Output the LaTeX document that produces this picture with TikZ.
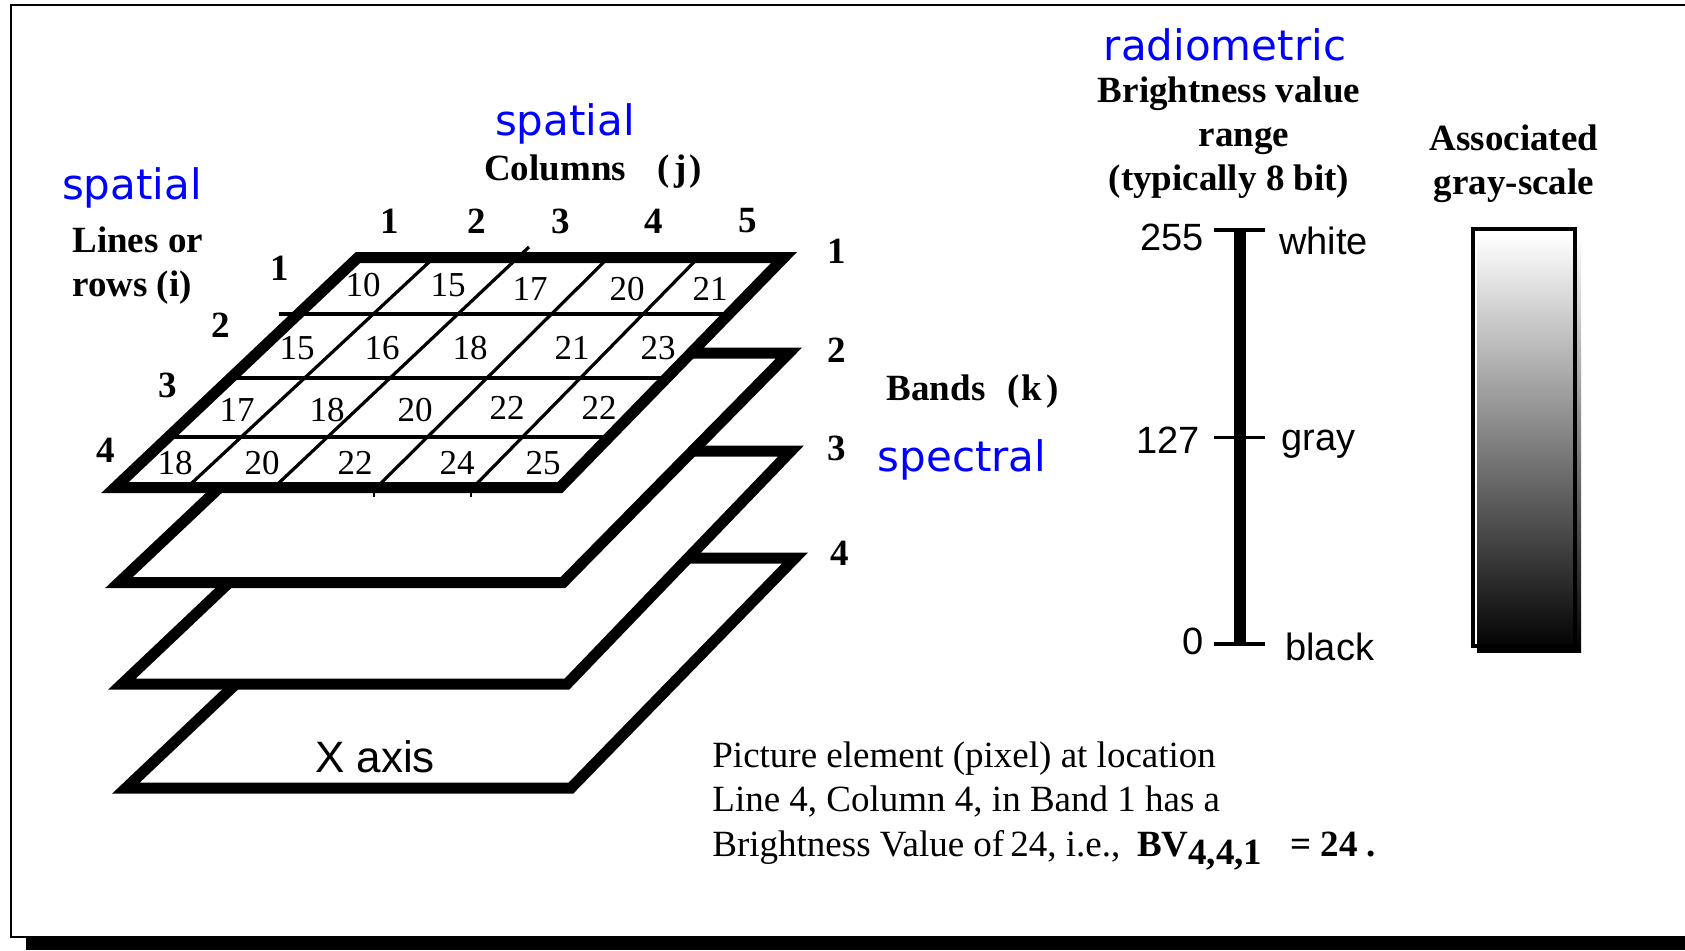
\documentclass[tikz,border=0pt]{standalone}
\usepackage{fontspec}
\setmainfont{Liberation Serif}
\newfontfamily\bluefont{DejaVu Sans}
\newfontfamily\arialfont{Liberation Sans}
\tikzset{
  plane/.style={draw, fill=white, line width=5.5pt},
  gridline/.style={line width=1.6pt},
  cellnum/.style={inner sep=0pt, font=\fontsize{17.5}{20}\selectfont},
  idxnum/.style={inner sep=0pt, font=\fontsize{18.5}{21}\selectfont\bfseries},
  axislabel/.style={inner sep=0pt, font=\fontsize{18.5}{22}\selectfont\bfseries},
  kind/.style={inner sep=0pt, text=blue, font=\bluefont\fontsize{21}{24}\selectfont},
  scalelabel/.style={inner sep=0pt, font=\arialfont\fontsize{19}{22}\selectfont},
}
\begin{document}
\begin{tikzpicture}[x=0.5pt, y=-0.5pt]
    \useasboundingbox (0,0) rectangle (1685,950);
    \fill (26,936) rectangle (1685,950);
    \draw[line width=1.25pt] (1685,5) -- (11,5) -- (11,937) -- (1685,937);
    \draw[plane] (369,558) -- (795,558) -- (571,788) -- (126,788) -- cycle;
    \draw[plane] (368,451) -- (791,451) -- (567,684) -- (122,684) -- cycle;
    \draw[plane] (362,353) -- (789,353) -- (563,582.5) -- (119,582.5) -- cycle;
    \draw[plane] (358,257.5) -- (784,257.5) -- (560,487.5) -- (115,487.5) -- cycle;
    \draw[gridline] (279,314) -- (729,314);
    \draw[gridline] (231,378) -- (667,378);
    \draw[gridline] (168,437) -- (609,437);
    \draw[gridline] (434,257.5) -- (187,487.5);
    \draw[gridline] (529,247) -- (274,487.5);
    \draw[gridline] (608.5,257.5) -- (376.5,487.5);
    \draw[gridline] (698.5,257.5) -- (473,487.5);
    \draw[line width=0.8pt] (374,487) -- (374,497);
    \draw[line width=0.8pt] (471,487) -- (471,497);
    \node[cellnum] (c11) at (363,285) {10};
    \node[cellnum] (c12) at (448,285) {15};
    \node[cellnum] (c13) at (530,289) {17};
    \node[cellnum] (c14) at (627,289) {20};
    \node[cellnum] (c15) at (710,289) {21};
    \node[cellnum] (c21) at (297,348) {15};
    \node[cellnum] (c22) at (382,348) {16};
    \node[cellnum] (c23) at (470,348) {18};
    \node[cellnum] (c24) at (572,348) {21};
    \node[cellnum] (c25) at (658,348) {23};
    \node[cellnum] (c31) at (237,410) {17};
    \node[cellnum] (c32) at (327,410) {18};
    \node[cellnum] (c33) at (415,410) {20};
    \node[cellnum] (c34) at (507,408) {22};
    \node[cellnum] (c35) at (599,408) {22};
    \node[cellnum] (c41) at (175,463) {18};
    \node[cellnum] (c42) at (262,463) {20};
    \node[cellnum] (c43) at (355,463) {22};
    \node[cellnum] (c44) at (457,463) {24};
    \node[cellnum] (c45) at (543,463) {25};
    \node[idxnum] (col1) at (390,221) {1};
    \node[idxnum] (col2) at (477,221) {2};
    \node[idxnum] (col3) at (561,221) {3};
    \node[idxnum] (col4) at (654,221) {4};
    \node[idxnum] (col5) at (748,221) {5};
    \node[idxnum] (row1) at (280,268) {1};
    \node[idxnum] (row2) at (221,325) {2};
    \node[idxnum] (row3) at (168,385) {3};
    \node[idxnum] (row4) at (106,450) {4};
    \node[idxnum] (band1) at (837,251) {1};
    \node[idxnum] (band2) at (837,350) {2};
    \node[idxnum] (band3) at (837,448) {3};
    \node[idxnum] (band4) at (840,553) {4};
    \node[inner sep=0pt, font=\arialfont\fontsize{22}{26}\selectfont] (xaxis) at (375,757) {X axis};
    \node[kind] (spatrows) at (132,188) {spatial};
    \node[kind] (spatcols) at (565,124) {spatial};
    \node[kind] (spectral) at (962,460) {spectral};
    \node[kind] (radiom) at (1225,45) {radiometric};
    \node[axislabel, align=left, anchor=west] (rows) at (72,266) {Lines or\\rows (i)};
    \node[axislabel] (cols) at (593,172) {Columns\hspace{0.85em}(\kern0.12em j\kern0.08em)};
    \node[axislabel] (bands) at (973,392) {Bands\hspace{0.6em}(\kern0.05em k\kern0.12em)};
    \node[axislabel, align=center] (bvrange) at (1229,138) {Brightness value\\\hspace{0.8em}range\\(typically 8 bit)};
    \node[axislabel, align=center] (assoc) at (1514,164) {Associated\\gray-scale};
    \draw[line width=6pt] (1240,231) -- (1240,643);
    \draw[line width=1.75pt] (1214,230) -- (1265,230);
    \draw[line width=1.75pt] (1214,437.5) -- (1265,437.5);
    \draw[line width=1.75pt] (1214,644) -- (1265,644);
    \node[scalelabel, anchor=east] (v255) at (1204,237) {255};
    \node[scalelabel, anchor=east] (v127) at (1200,440) {127};
    \node[scalelabel, anchor=east] (v0) at (1204,641) {0};
    \node[scalelabel, anchor=west] (white) at (1279,241) {white};
    \node[scalelabel, anchor=west] (gray) at (1281,444) {gray};
    \node[scalelabel, anchor=west] (black) at (1285,647) {black};
    \shade[top color=white, bottom color=black] (1477,234) rectangle (1581,652);
    \draw[line width=1.6pt] (1473,229) rectangle (1575,646);
    \node[inner sep=0pt, anchor=north west, align=left, font=\fontsize{18.5}{22.25}\selectfont] (pixnote) at (712,741)
      {Picture element (pixel) at location\\Line 4, Column 4, in Band 1 has a\\Brightness Value of\thinspace 24, i.e.,\hspace{0.45em}\textbf{BV\raisebox{-4pt}{4,4,1}\ \ \ = 24 .}};
  \end{tikzpicture}
\end{document}
